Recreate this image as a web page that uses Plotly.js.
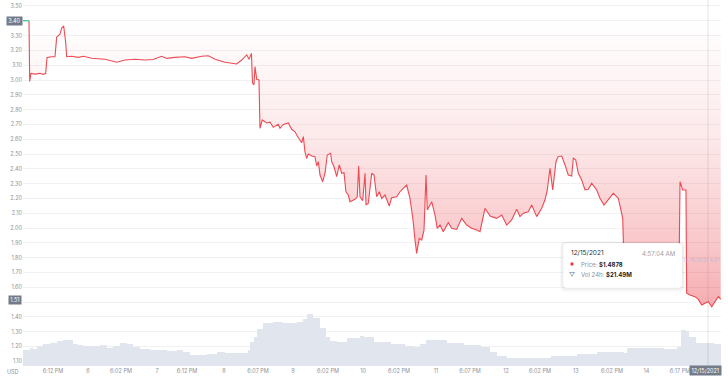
<!DOCTYPE html>
<html>
<head>
<meta charset="utf-8">
<script src="https://cdn.plot.ly/plotly-3.0.1.min.js"></script>
<style>
  html, body { margin: 0; padding: 0; background: #ffffff; }
  #chart { width: 728px; height: 392px; }
</style>
</head>
<body>
<div id="chart"></div>
<script>
// ---- data (x in fractional days of December 2021) ----
const openPrice = 3.40;
const currentPrice = 1.51;

const priceDays = [5.155,5.165,5.183,5.241,5.312,5.355,5.394,5.413,5.470,5.527,5.552,5.599,5.623,5.652,5.681,5.695,5.766,5.861,5.933,6.053,6.244,6.411,6.530,6.673,6.817,6.931,7.056,7.128,7.246,7.390,7.486,7.629,7.724,7.820,7.963,8.130,8.202,8.274,8.307,8.342,8.357,8.378,8.393,8.417,8.450,8.464,8.497,8.560,8.608,8.655,8.726,8.751,8.798,8.870,8.918,8.966,9.013,9.062,9.085,9.109,9.133,9.156,9.205,9.252,9.277,9.300,9.324,9.363,9.396,9.428,9.477,9.491,9.524,9.563,9.600,9.635,9.668,9.696,9.729,9.754,9.825,9.858,9.878,9.897,9.936,9.969,9.983,10.016,10.065,10.098,10.136,10.174,10.208,10.255,10.317,10.351,10.423,10.470,10.517,10.566,10.613,10.656,10.685,10.709,10.746,10.781,10.814,10.843,10.861,10.900,10.924,10.971,11.004,11.043,11.090,11.162,11.211,11.282,11.354,11.426,11.497,11.569,11.616,11.688,11.760,11.855,11.927,11.999,12.070,12.142,12.189,12.237,12.308,12.357,12.429,12.500,12.547,12.580,12.619,12.658,12.705,12.734,12.787,12.834,12.881,12.930,12.953,12.987,13.025,13.073,13.096,13.121,13.168,13.217,13.288,13.335,13.393,13.431,13.479,13.526,13.598,13.647,13.661,13.680,13.909,14.196,14.468,14.482,14.520,14.567,14.577,14.625,14.696,14.744,14.793,14.840,14.887,14.936,14.983,15.030,15.065];
const priceValues = [3.40,2.99,3.045,3.04,3.045,3.038,3.045,3.15,3.157,3.157,3.29,3.31,3.35,3.365,3.25,3.157,3.16,3.153,3.16,3.147,3.14,3.12,3.135,3.14,3.135,3.138,3.16,3.146,3.153,3.157,3.146,3.16,3.164,3.14,3.12,3.108,3.135,3.17,3.14,3.18,2.98,2.966,3.09,3.005,3.0,2.674,2.73,2.71,2.715,2.68,2.70,2.674,2.70,2.71,2.667,2.65,2.61,2.576,2.617,2.515,2.47,2.50,2.486,2.482,2.419,2.448,2.358,2.313,2.37,2.493,2.505,2.448,2.414,2.347,2.426,2.37,2.374,2.245,2.223,2.178,2.194,2.211,2.419,2.211,2.185,2.37,2.155,2.167,2.37,2.358,2.211,2.245,2.20,2.223,2.149,2.205,2.211,2.245,2.268,2.29,2.20,2.056,1.919,1.829,1.93,1.919,1.986,2.358,2.122,2.155,2.178,2.088,1.998,2.02,1.975,2.036,1.998,1.99,2.065,2.02,1.998,1.986,1.975,2.133,2.081,2.065,2.088,2.02,2.054,2.126,2.077,2.10,2.11,2.155,2.077,2.133,2.189,2.257,2.403,2.257,2.448,2.482,2.486,2.426,2.358,2.351,2.471,2.46,2.37,2.324,2.29,2.257,2.261,2.302,2.257,2.201,2.155,2.178,2.201,2.234,2.201,2.088,2.065,1.75,1.72,1.74,1.73,2.313,2.257,2.257,1.559,1.547,1.536,1.518,1.48,1.491,1.502,1.468,1.502,1.536,1.518];

const volumeDays = [5.069,5.169,5.212,5.269,5.355,5.456,5.556,5.642,5.713,5.785,5.857,5.928,6.057,6.172,6.272,6.358,6.458,6.559,6.645,6.745,6.888,7.132,7.275,7.361,7.461,7.605,7.705,7.848,7.963,8.077,8.249,8.292,8.321,8.378,8.421,8.507,8.651,8.794,8.994,9.080,9.138,9.224,9.324,9.410,9.467,9.567,9.711,9.897,9.954,10.098,10.341,10.542,10.671,10.757,10.843,11.143,11.387,11.631,11.759,11.860,12.003,12.533,12.633,13.006,13.292,13.679,13.722,14.252,14.438,14.482,14.496,14.567,14.610,14.711,14.968,15.069];
const volumeValues = [16,18,17,20,22,23,25,26,26,22,21,20,20,21,18,20,23,22,19,17,16,15,16,14,11,11,12,14,13,13,13,16,24,29,37,43,44,43,44,47,52,48,38,29,25,24,28,30,29,24,22,20,19,22,26,23,21,19,14,10,8,8,10,12,14,13,18,17,19,19,36,35,29,23,22,22];

const xTickVals = [5.499,6.0,6.473,6.989,7.418,7.948,8.436,8.937,9.438,9.94,10.456,10.986,11.473,11.989,12.476,12.99,13.507,14.0,14.481];
const xTickText = ['6:12 PM','6','6:02 PM','7','6:12 PM','8','6:07 PM','9','6:02 PM','10','6:02 PM','11','6:07 PM','12','6:02 PM','13','6:02 PM','14','6:17 PM'];
const yTickVals = [1.1,1.2,1.3,1.4,1.5,1.6,1.7,1.8,1.9,2.0,2.1,2.2,2.3,2.4,2.5,2.6,2.7,2.8,2.9,3.0,3.1,3.2,3.3,3.4,3.5];
// labels hidden where the open / current price badges sit on the axis
const yTickText = yTickVals.map(v => (Math.abs(v - openPrice) < 0.05 || Math.abs(v - currentPrice) < 0.05) ? '' : v.toFixed(2));

const tooltipDate = '12/15/2021';
const tooltipTime = '4:57:04 AM';
const tooltipPrice = '$1.4878';
const tooltipVol = '$21.49M';
const xRange = [5.069, 15.069];

// ---- helpers for paper coordinates ----
const L = 23, R = 721, T = 0, B = 366;
const px = x => (x - L) / (R - L);
const py = y => 1 - (y - T) / (B - T);
function roundRect(x0, y0, x1, y1, r) {
  const rx = r / (R - L), ry = r / (B - T);
  const a = px(x0), b = px(x1), top = py(y0), bot = py(y1);
  return `M${a+rx},${top} L${b-rx},${top} Q${b},${top} ${b},${top-ry} L${b},${bot+ry} Q${b},${bot} ${b-rx},${bot} L${a+rx},${bot} Q${a},${bot} ${a},${bot+ry} L${a},${top-ry} Q${a},${top} ${a+rx},${top} Z`;
}

const red = '#ea3943';
const traces = [
  { // baseline (open price) for the fill
    x: [priceDays[0], priceDays[priceDays.length - 1]],
    y: [openPrice, openPrice],
    mode: 'lines', line: { width: 0, color: 'rgba(0,0,0,0)' },
    hoverinfo: 'skip'
  },
  { // price line, filled up to the baseline
    x: priceDays, y: priceValues,
    mode: 'lines', line: { color: 'rgba(234,57,67,0.9)', width: 1.1 },
    fill: 'tonexty',
    fillgradient: {
      type: 'vertical', start: 1.45, stop: 3.40,
      colorscale: [[0, 'rgba(234,57,67,0.42)'], [0.23, 'rgba(234,57,67,0.28)'], [0.6, 'rgba(234,57,67,0.11)'], [1, 'rgba(234,57,67,0.0)']]
    },
    hoverinfo: 'skip'
  },
  { // first segment at the open price
    x: [xRange[0], priceDays[0]], y: [openPrice, openPrice],
    mode: 'lines', line: { color: '#16c784', width: 1.1 }, hoverinfo: 'skip'
  },
  { // volume
    x: volumeDays, y: volumeValues, yaxis: 'y2',
    mode: 'lines', line: { width: 0, shape: 'hv' },
    fill: 'tozeroy', fillcolor: '#e0e5ee', hoverinfo: 'skip'
  }
];

const font = 'Inter, "Open Sans", sans-serif';
const layout = {
  width: 728, height: 392,
  margin: { l: L, r: 728 - R, t: T, b: 392 - B },
  paper_bgcolor: '#ffffff', plot_bgcolor: '#ffffff',
  showlegend: false,
  font: { family: font, size: 6, color: '#8d929a' },
  xaxis: {
    range: xRange, tickmode: 'array', tickvals: xTickVals, ticktext: xTickText,
    showgrid: false, zeroline: false, showline: false, ticks: '',
    tickfont: { size: 5.5, color: '#8d929a' }, fixedrange: true
  },
  yaxis: {
    range: [1.0676, 3.5405], tickmode: 'array', tickvals: yTickVals, ticktext: yTickText,
    showgrid: true, gridcolor: '#f1f1f3', gridwidth: 1, zeroline: false, showline: false, ticks: '',
    tickfont: { size: 5.5, color: '#8d929a' }, fixedrange: true
  },
  yaxis2: { overlaying: 'y', range: [0, 366], visible: false, fixedrange: true },
  shapes: [
    // crosshair
    { type: 'line', xref: 'paper', yref: 'paper', x0: px(708), x1: px(708), y0: 0, y1: 1,
      line: { color: 'rgba(120,120,130,0.25)', width: 0.8 } },
    // tooltip shadow
    { type: 'path', xref: 'paper', yref: 'paper', path: roundRect(560, 241, 685, 292, 6),
      fillcolor: 'rgba(0,0,0,0.025)', line: { width: 0 } },
    { type: 'path', xref: 'paper', yref: 'paper', path: roundRect(561, 242, 684, 290, 5),
      fillcolor: 'rgba(0,0,0,0.035)', line: { width: 0 } },
    // tooltip box
    { type: 'path', xref: 'paper', yref: 'paper', path: roundRect(563, 243, 682, 288, 4),
      fillcolor: '#ffffff', line: { color: 'rgba(0,0,0,0.05)', width: 0.5 } },
    // red dot
    { type: 'circle', xref: 'paper', yref: 'paper', x0: px(570.3), x1: px(573.7), y0: py(262.3), y1: py(265.7),
      fillcolor: red, line: { width: 0 } }
  ],
  annotations: [
    { xref: 'paper', yref: 'paper', x: px(13), y: py(372), text: 'USD', showarrow: false,
      font: { size: 5.5, color: '#8d929a' }, xanchor: 'center', yanchor: 'middle' },
    { xref: 'paper', yref: 'paper', x: px(14.5), y: py(21), text: openPrice.toFixed(2), showarrow: false,
      font: { size: 5.5, color: '#ffffff' }, bgcolor: '#737b89', borderpad: 1.2, xanchor: 'center', yanchor: 'middle' },
    { xref: 'paper', yref: 'paper', x: px(14.5), y: py(300), text: currentPrice.toFixed(2), showarrow: false,
      font: { size: 5.5, color: '#ffffff' }, bgcolor: '#737b89', borderpad: 1.2, xanchor: 'center', yanchor: 'middle' },
    { xref: 'paper', yref: 'paper', x: px(705.5), y: py(371), text: tooltipDate, showarrow: false,
      font: { size: 5.5, color: '#ffffff' }, bgcolor: '#737b89', borderpad: 1.5, xanchor: 'center', yanchor: 'middle' },
    { xref: 'paper', yref: 'paper', x: px(701), y: py(260), text: tooltipDate + ' 4:57', showarrow: false,
      font: { size: 5, color: 'rgba(140,170,225,0.55)' }, xanchor: 'center', yanchor: 'middle' },
    // tooltip text
    { xref: 'paper', yref: 'paper', x: px(569), y: py(253), text: tooltipDate, showarrow: false,
      font: { size: 6.5, color: '#2b2f36' }, xanchor: 'left', yanchor: 'middle' },
    { xref: 'paper', yref: 'paper', x: px(677), y: py(253), text: tooltipTime, showarrow: false,
      font: { size: 6, color: '#9aa0a8' }, xanchor: 'right', yanchor: 'middle' },
    { xref: 'paper', yref: 'paper', x: px(578.5), y: py(264), showarrow: false,
      text: 'Price: <b><span style="color:#1f2328">' + tooltipPrice + '</span></b>',
      font: { size: 6, color: '#8d929a' }, xanchor: 'left', yanchor: 'middle' },
    { xref: 'paper', yref: 'paper', x: px(572), y: py(274), text: '▽', showarrow: false,
      font: { size: 6, color: '#6b7280' }, xanchor: 'center', yanchor: 'middle' },
    { xref: 'paper', yref: 'paper', x: px(578.5), y: py(274.5), showarrow: false,
      text: 'Vol 24h: <b><span style="color:#1f2328">' + tooltipVol + '</span></b>',
      font: { size: 6, color: '#8d929a' }, xanchor: 'left', yanchor: 'middle' }
  ]
};

Plotly.newPlot('chart', traces, layout, { staticPlot: true, displayModeBar: false });
</script>
</body>
</html>
